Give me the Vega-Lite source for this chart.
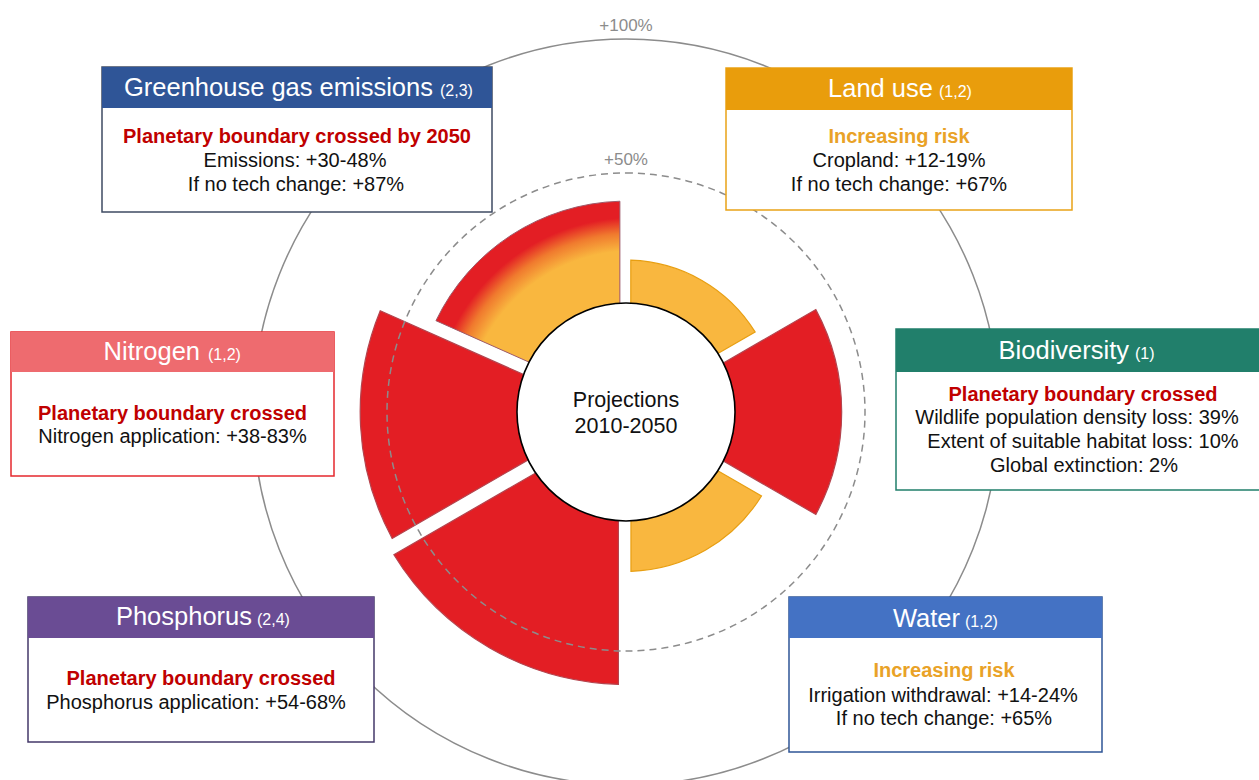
{
  "$schema": "https://vega.github.io/schema/vega-lite/v6.json",
  "width": 1259,
  "height": 780,
  "padding": 0,
  "autosize": {"type": "none"},
  "background": "white",
  "config": {"view": {"stroke": null}, "axis": {"disable": true}, "font": "Liberation Sans"},
  "datasets": {
    "wedges": [
      {"name": "GHG", "status": "crossed", "t1": 294, "t2": 360, "value": 39.5},
      {"name": "Land use", "status": "risk", "t1": 0, "t2": 60, "value": 17.5},
      {"name": "Biodiversity", "status": "crossed", "t1": 60, "t2": 120, "value": 41.3},
      {"name": "Water", "status": "risk", "t1": 120, "t2": 180, "value": 20.3},
      {"name": "Phosphorus", "status": "crossed", "t1": 180, "t2": 240, "value": 62.5},
      {"name": "Nitrogen", "status": "crossed", "t1": 240, "t2": 294, "value": 60}
    ],
    "rings": [
      {"ring": 100, "label": "+100%"},
      {"ring": 50, "label": "+50%"}
    ],
    "boxes": [
      {"name": "GHG", "x1": 102, "x2": 492, "y1": 67, "yh": 108, "y2": 212},
      {"name": "Land use", "x1": 726, "x2": 1072, "y1": 68, "yh": 110, "y2": 210},
      {"name": "Nitrogen", "x1": 11, "x2": 334, "y1": 332, "yh": 372, "y2": 476},
      {"name": "Biodiversity", "x1": 896, "x2": 1270, "y1": 329, "yh": 372, "y2": 490},
      {"name": "Phosphorus", "x1": 28, "x2": 374, "y1": 597, "yh": 638, "y2": 742},
      {"name": "Water", "x1": 789, "x2": 1102, "y1": 597, "yh": 638, "y2": 752}
    ],
    "texts": [
      {"name": "GHG", "kind": "title", "text": "Greenhouse gas emissions", "x": 433, "y": 96},
      {"name": "GHG", "kind": "sub", "text": "(2,3)", "x": 440, "y": 96},
      {"name": "GHG", "kind": "bold", "status": "crossed", "text": "Planetary boundary crossed by 2050", "x": 297, "y": 143},
      {"name": "GHG", "kind": "body", "text": "Emissions: +30-48%", "x": 295, "y": 167},
      {"name": "GHG", "kind": "body", "text": "If no tech change: +87%", "x": 296, "y": 190.5},
      {"name": "Land use", "kind": "title", "text": "Land use", "x": 933, "y": 97},
      {"name": "Land use", "kind": "sub", "text": "(1,2)", "x": 939, "y": 97},
      {"name": "Land use", "kind": "bold", "status": "risk", "text": "Increasing risk", "x": 899, "y": 143},
      {"name": "Land use", "kind": "body", "text": "Cropland: +12-19%", "x": 899, "y": 167},
      {"name": "Land use", "kind": "body", "text": "If no tech change: +67%", "x": 899, "y": 191},
      {"name": "Nitrogen", "kind": "title", "text": "Nitrogen", "x": 200, "y": 360},
      {"name": "Nitrogen", "kind": "sub", "text": "(1,2)", "x": 208, "y": 360},
      {"name": "Nitrogen", "kind": "bold", "status": "crossed", "text": "Planetary boundary crossed", "x": 172.5, "y": 420},
      {"name": "Nitrogen", "kind": "body", "text": "Nitrogen application: +38-83%", "x": 172.5, "y": 443},
      {"name": "Biodiversity", "kind": "title", "text": "Biodiversity", "x": 1129, "y": 359},
      {"name": "Biodiversity", "kind": "sub", "text": "(1)", "x": 1135, "y": 359},
      {"name": "Biodiversity", "kind": "bold", "status": "crossed", "text": "Planetary boundary crossed", "x": 1083, "y": 400.5},
      {"name": "Biodiversity", "kind": "body", "text": "Wildlife population density loss: 39%", "x": 1077, "y": 424},
      {"name": "Biodiversity", "kind": "body", "text": "Extent of suitable habitat loss: 10%", "x": 1083, "y": 448},
      {"name": "Biodiversity", "kind": "body", "text": "Global extinction: 2%", "x": 1084, "y": 471.5},
      {"name": "Phosphorus", "kind": "title", "text": "Phosphorus", "x": 252, "y": 625},
      {"name": "Phosphorus", "kind": "sub", "text": "(2,4)", "x": 257, "y": 625},
      {"name": "Phosphorus", "kind": "bold", "status": "crossed", "text": "Planetary boundary crossed", "x": 201, "y": 685},
      {"name": "Phosphorus", "kind": "body", "text": "Phosphorus application: +54-68%", "x": 196, "y": 709},
      {"name": "Water", "kind": "title", "text": "Water", "x": 960, "y": 627},
      {"name": "Water", "kind": "sub", "text": "(1,2)", "x": 965, "y": 627},
      {"name": "Water", "kind": "bold", "status": "risk", "text": "Increasing risk", "x": 944, "y": 677},
      {"name": "Water", "kind": "body", "text": "Irrigation withdrawal: +14-24%", "x": 943, "y": 701.5},
      {"name": "Water", "kind": "body", "text": "If no tech change: +65%", "x": 944, "y": 725},
      {"name": "center", "kind": "center", "text": "Projections", "x": 626, "y": 407},
      {"name": "center", "kind": "center", "text": "2010-2050", "x": 626, "y": 433}
    ]
  },
  "resolve": {"scale": {"color": "independent", "fill": "independent", "stroke": "independent"}},
  "layer": [
    {
      "data": {"name": "rings"},
      "transform": [{"filter": "datum.ring == 100"}],
      "mark": {"type": "arc", "filled": false, "stroke": "#8C8C8C", "strokeWidth": 1.5, "radius2": 0},
      "encoding": {
        "x": {"datum": 626, "type": "quantitative", "scale": {"domain": [0, 1259], "nice": false, "zero": false}, "axis": null},
        "y": {"datum": 412, "type": "quantitative", "scale": {"domain": [0, 780], "nice": false, "zero": false, "reverse": true}, "axis": null},
        "theta": {"datum": 0, "type": "quantitative", "scale": {"domain": [0, 360], "range": [0, 6.283185307179586]}},
        "theta2": {"datum": 360},
        "radius": {"field": "ring", "type": "quantitative", "scale": {"type": "linear", "domain": [0, 100], "range": [105, 373], "zero": false, "nice": false}}
      }
    },
    {
      "data": {"name": "wedges"},
      "transform": [{"filter": "datum.name != 'GHG'"}],
      "mark": {"type": "arc", "padAngle": 0.052, "strokeWidth": 1.2},
      "encoding": {
        "x": {"datum": 626, "type": "quantitative", "axis": null},
        "y": {"datum": 412, "type": "quantitative", "axis": null},
        "theta": {"field": "t1", "type": "quantitative", "scale": {"domain": [0, 360], "range": [0, 6.283185307179586]}},
        "theta2": {"field": "t2"},
        "radius": {"field": "value", "type": "quantitative", "scale": {"type": "linear", "domain": [0, 100], "range": [105, 373], "zero": false, "nice": false}},
        "radius2": {"datum": 0},
        "color": {"field": "status", "type": "nominal", "scale": {"domain": ["crossed", "risk"], "range": ["#E31E24", "#F9B73F"]}, "legend": null},
        "stroke": {"field": "status", "type": "nominal", "scale": {"domain": ["crossed", "risk"], "range": ["#B4444E", "#E89F12"]}, "legend": null}
      }
    },
    {
      "data": {"name": "wedges"},
      "transform": [{"filter": "datum.name == 'GHG'"}],
      "mark": {
        "type": "arc", "padAngle": 0.052, "strokeWidth": 1, "stroke": "#9E5A6A",
        "fill": {
          "gradient": "radial", "x1": 1.07, "y1": 1.24, "r1": 0, "x2": 1.07, "y2": 1.24, "r2": 1.2,
          "stops": [
            {"offset": 0, "color": "#F9B73F"},
            {"offset": 0.76, "color": "#F9B73F"},
            {"offset": 0.84, "color": "#F07A2E"},
            {"offset": 0.91, "color": "#E31E24"},
            {"offset": 1, "color": "#E31E24"}
          ]
        }
      },
      "encoding": {
        "x": {"datum": 626, "type": "quantitative", "axis": null},
        "y": {"datum": 412, "type": "quantitative", "axis": null},
        "theta": {"field": "t1", "type": "quantitative"},
        "theta2": {"field": "t2"},
        "radius": {"field": "value", "type": "quantitative"},
        "radius2": {"datum": 0}
      }
    },
    {
      "data": {"name": "rings"},
      "transform": [{"filter": "datum.ring == 50"}],
      "mark": {"type": "arc", "filled": false, "stroke": "#8C8C8C", "strokeWidth": 1.5, "strokeDash": [7, 5], "radius2": 0},
      "encoding": {
        "x": {"datum": 626, "type": "quantitative", "axis": null},
        "y": {"datum": 412, "type": "quantitative", "axis": null},
        "theta": {"datum": 0, "type": "quantitative"},
        "theta2": {"datum": 360},
        "radius": {"field": "ring", "type": "quantitative"}
      }
    },
    {
      "data": {"values": [{"item": "inner"}]},
      "mark": {"type": "arc", "fill": "white", "stroke": "black", "strokeWidth": 1.6, "radius2": 0},
      "encoding": {
        "x": {"datum": 626, "type": "quantitative", "axis": null},
        "y": {"datum": 412, "type": "quantitative", "axis": null},
        "theta": {"datum": 0, "type": "quantitative"},
        "theta2": {"datum": 360},
        "radius": {"datum": 1.5, "type": "quantitative"}
      }
    },
    {
      "data": {"name": "rings"},
      "mark": {"type": "text", "baseline": "alphabetic", "align": "center", "dy": -8, "fontSize": 17, "color": "#8C8C8C"},
      "encoding": {
        "x": {"datum": 626, "type": "quantitative", "axis": null},
        "y": {"datum": 412, "type": "quantitative", "axis": null},
        "theta": {"datum": 0, "type": "quantitative"},
        "radius": {"field": "ring", "type": "quantitative"},
        "text": {"field": "label"}
      }
    },
    {
      "data": {"name": "boxes"},
      "mark": {"type": "rect", "fill": "white", "strokeWidth": 1.5},
      "encoding": {
        "x": {"field": "x1", "type": "quantitative", "axis": null},
        "x2": {"field": "x2"},
        "y": {"field": "y1", "type": "quantitative", "axis": null},
        "y2": {"field": "y2"},
        "stroke": {"field": "name", "type": "nominal", "scale": {"domain": ["GHG", "Land use", "Nitrogen", "Biodiversity", "Phosphorus", "Water"], "range": ["#3F4B63", "#E9A317", "#E5282E", "#217F6B", "#44386A", "#2F5597"]}, "legend": null}
      }
    },
    {
      "data": {"name": "boxes"},
      "mark": {"type": "rect"},
      "encoding": {
        "x": {"field": "x1", "type": "quantitative", "axis": null},
        "x2": {"field": "x2"},
        "y": {"field": "y1", "type": "quantitative", "axis": null},
        "y2": {"field": "yh"},
        "fill": {"field": "name", "type": "nominal", "scale": {"domain": ["GHG", "Land use", "Nitrogen", "Biodiversity", "Phosphorus", "Water"], "range": ["#2F5597", "#E99D0C", "#EE6B6F", "#217F6B", "#6A4C94", "#4472C4"]}, "legend": null}
      }
    },
    {
      "data": {"name": "texts"},
      "transform": [{"filter": "datum.kind == 'title'"}],
      "mark": {"type": "text", "align": "right", "baseline": "alphabetic", "fontSize": 25.5, "color": "white"},
      "encoding": {
        "x": {"field": "x", "type": "quantitative", "axis": null},
        "y": {"field": "y", "type": "quantitative", "axis": null},
        "text": {"field": "text"}
      }
    },
    {
      "data": {"name": "texts"},
      "transform": [{"filter": "datum.kind == 'sub'"}],
      "mark": {"type": "text", "align": "left", "baseline": "alphabetic", "fontSize": 16, "color": "white"},
      "encoding": {
        "x": {"field": "x", "type": "quantitative", "axis": null},
        "y": {"field": "y", "type": "quantitative", "axis": null},
        "text": {"field": "text"}
      }
    },
    {
      "data": {"name": "texts"},
      "transform": [{"filter": "datum.kind == 'bold'"}],
      "mark": {"type": "text", "align": "center", "baseline": "alphabetic", "fontSize": 20, "fontWeight": "bold"},
      "encoding": {
        "x": {"field": "x", "type": "quantitative", "axis": null},
        "y": {"field": "y", "type": "quantitative", "axis": null},
        "text": {"field": "text"},
        "color": {"field": "status", "type": "nominal", "scale": {"domain": ["crossed", "risk"], "range": ["#C00000", "#E9A227"]}, "legend": null}
      }
    },
    {
      "data": {"name": "texts"},
      "transform": [{"filter": "datum.kind == 'body'"}],
      "mark": {"type": "text", "align": "center", "baseline": "alphabetic", "fontSize": 20, "color": "#111111"},
      "encoding": {
        "x": {"field": "x", "type": "quantitative", "axis": null},
        "y": {"field": "y", "type": "quantitative", "axis": null},
        "text": {"field": "text"}
      }
    },
    {
      "data": {"name": "texts"},
      "transform": [{"filter": "datum.kind == 'center'"}],
      "mark": {"type": "text", "align": "center", "baseline": "alphabetic", "fontSize": 21.5, "color": "#111111"},
      "encoding": {
        "x": {"field": "x", "type": "quantitative", "axis": null},
        "y": {"field": "y", "type": "quantitative", "axis": null},
        "text": {"field": "text"}
      }
    }
  ]
}
